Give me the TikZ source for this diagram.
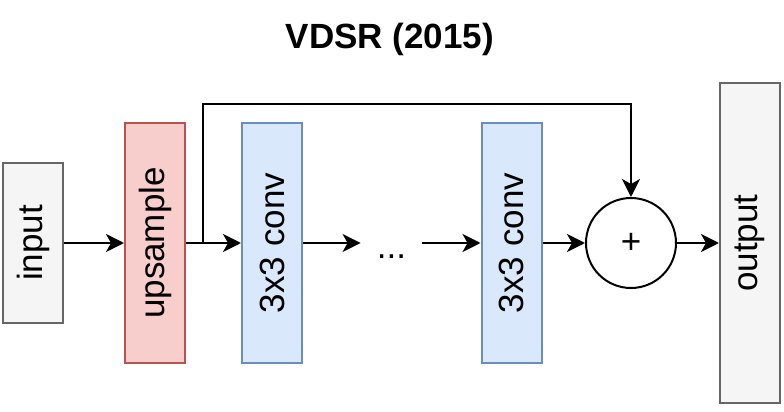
\documentclass[tikz,border=0pt]{standalone}
\usepackage{fontspec}
\setmainfont{Liberation Sans}
\usetikzlibrary{arrows.meta,calc}
\definecolor{iofill}{HTML}{F5F5F5}
\definecolor{ioline}{HTML}{666666}
\definecolor{upfill}{HTML}{F8CECC}
\definecolor{upline}{HTML}{B85450}
\definecolor{convfill}{HTML}{DAE8FC}
\definecolor{convline}{HTML}{6C8EBF}
\begin{document}
\begin{tikzpicture}[x=0.5pt, y=-0.5pt, font=\fontsize{17.5}{21}\selectfont,
    block/.style={draw, line width=1pt, minimum width=30pt, inner sep=0pt},
    link/.style={-{Stealth[length=9pt, width=9pt, inset=2.5pt]}, line width=1pt}]
  \useasboundingbox (0,0) rectangle (784,412);
  % Title
  \node[font=\fontsize{17.5}{21}\selectfont\bfseries] (title) at (390,39) {VDSR (2015)};
  % Layers
  \node[block, draw=ioline, fill=iofill, minimum height=80pt] (in) at (33,243) {\rotatebox{90}{input}};
  \node[block, draw=upline, fill=upfill, minimum height=120pt] (up) at (155,243) {\rotatebox{90}{upsample}};
  \node[block, draw=convline, fill=convfill, minimum height=120pt] (c1) at (272,243) {\rotatebox{90}{3x3 conv}};
  \node[inner sep=0pt, minimum width=30.5pt, text height=15pt, text depth=0pt] (dots) at (391.5,243) {...};
  \node[block, draw=convline, fill=convfill, minimum height=120pt] (c2) at (511.5,243) {\rotatebox{90}{3x3 conv}};
  \node[draw, circle, line width=1pt, minimum size=45pt, inner sep=0pt] (sum) at (631,243) {+};
  \node[block, draw=ioline, fill=iofill, minimum height=160pt] (out) at (750,243) {\rotatebox{90}{output}};
  % Connections
  \draw[link] (in) -- (up);
  \draw[link] (up) -- (c1);
  \draw[link] (c1) -- (dots);
  \draw[link] (dots) -- (c2);
  \draw[link] (c2) -- (sum);
  \draw[link] (sum) -- (out);
  % Skip connection
  \coordinate (split) at ($(up.east)!0.3!(c1.west)$);
  \coordinate (top) at (0,104);
  \draw[link] (split) -- (split |- top) -| (sum.north);
\end{tikzpicture}
\end{document}
